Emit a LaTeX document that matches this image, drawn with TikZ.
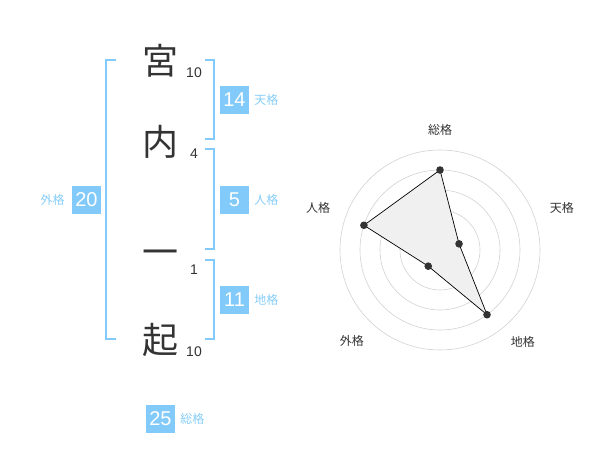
\documentclass[tikz,border=0pt]{standalone}
\usepackage{fontspec}
\setmainfont{Liberation Sans}
\newfontfamily\jp{Noto Sans CJK JP}
\usetikzlibrary{positioning}
\definecolor{kakublue}{RGB}{130,202,250}
\definecolor{labelblue}{RGB}{135,205,248}
\definecolor{inkgray}{RGB}{51,51,51}
\definecolor{ringgray}{RGB}{210,210,210}
\definecolor{areagray}{RGB}{240,240,240}
\tikzset{
  moji/.style={font=\jp\fontsize{36}{36}\selectfont, text=inkgray, inner sep=0pt},
  kakusu/.style={font=\fontsize{14}{14}\selectfont, text=inkgray, inner sep=0pt},
  bracket/.style={draw=kakublue, line width=2pt},
  kakubox/.style={fill=kakublue, text=white, font=\fontsize{20}{20}\selectfont,
    minimum width=29pt, minimum height=28pt, inner sep=0pt},
  kakulabel/.style={font=\jp\fontsize{12}{12}\selectfont, text=labelblue, inner sep=0pt},
  ring/.style={draw=ringgray, line width=0.6pt},
  axislabel/.style={font=\jp\fontsize{12}{12}\selectfont, text=inkgray, inner sep=0pt}
}
\begin{document}
\begin{tikzpicture}[x=1pt,y=-1pt]
\useasboundingbox (0,0) rectangle (600,470);
\def \cx {440}
\def \cy {250}

% name and stroke counts
\foreach \ch/\y/\n/\k in {宮/61/10/a, 内/142/4/b, 一/258/1/c, 起/340/10/d}
{
  \node[moji] (moji\k) at (160,\y) {\ch};
  \node[kakusu] (kakusu\k) at (194,\y+12) {\n};
}

% brackets
\draw[bracket] (116,60) -- (106,60) -- (106,339) -- (116,339);
\draw[bracket] (205,60) -- (214,60) -- (214,139) -- (205,139);
\draw[bracket] (205,149) -- (214,149) -- (214,249) -- (205,249);
\draw[bracket] (205,260) -- (214,260) -- (214,339) -- (205,339);

% kaku boxes
\node[kakubox] (tenkaku) at (234.5,100) {14};
\node[kakulabel, right=5pt of tenkaku] (tenlabel) {天格};
\node[kakubox] (jinkaku) at (234.5,200) {5};
\node[kakulabel, right=5pt of jinkaku] (jinlabel) {人格};
\node[kakubox] (chikaku) at (234.5,300) {11};
\node[kakulabel, right=5pt of chikaku] (chilabel) {地格};
\node[kakubox] (gaikaku) at (86.5,200) {20};
\node[kakulabel, left=7pt of gaikaku] (gailabel) {外格};
\node[kakubox] (soukaku) at (160.5,419) {25};
\node[kakulabel, right=5pt of soukaku] (soulabel) {総格};

% radar chart
\begin{scope}[shift={(\cx,\cy)}]
  \foreach \r in {20,40,...,100}
    \draw[ring] (0,0) circle (\r pt);
  \fill[ringgray] (0,0) circle (4pt);
  \foreach \a/\r/\k in {90/80/sou, 18/20/ten, -54/80/chi, -126/20/gai, 162/80/jin}
    \coordinate (p\k) at (\a:\r pt);
  \draw[fill=areagray, draw=black, line width=0.7pt]
    (psou) -- (pten) -- (pchi) -- (pgai) -- (pjin) -- cycle;
  \foreach \k in {sou, ten, chi, gai, jin}
    \fill[inkgray] (p\k) circle (3.8pt);
  \foreach \a/\r/\k/\t in {90/120/sou/総格, 19/129/ten/天格, -48/124/chi/地格,
    -134/127/gai/外格, 161/129/jin/人格}
    \node[axislabel] (ax\k) at (\a:\r pt) {\t};
\end{scope}
\end{tikzpicture}
\end{document}
